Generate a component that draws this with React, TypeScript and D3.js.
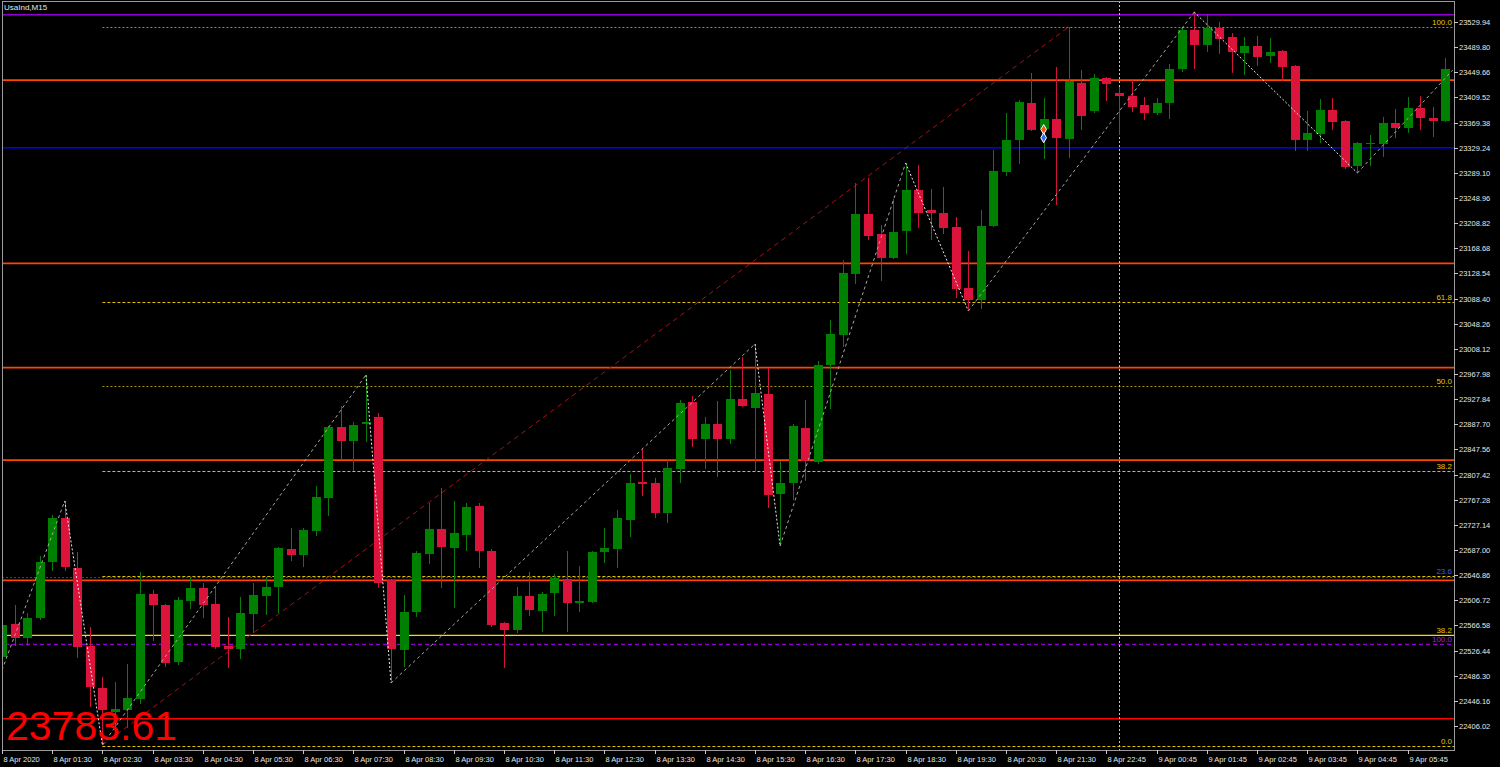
import React, { useEffect } from 'react';
import * as d3 from 'd3';

const WIDTH = 1500;
const HEIGHT = 767;

const symbolTitle = 'UsaInd,M15';
const bigPriceText = '23783.61';

const opens = [
  22516.2, 22568.9, 22546.5, 22578.5, 22667.9, 22738.1, 22658.3, 22533.8, 22466.7, 22428.4,
  22431.6, 22449.1, 22616.8, 22599.2, 22508.2, 22605.6, 22626.4, 22600.8, 22533.8, 22529.0,
  22584.8, 22613.6, 22628.0, 22688.6, 22679.0, 22717.4, 22770.0, 22883.4, 22861.0, 22888.2,
  22899.4, 22639.1, 22527.4, 22588.0, 22680.6, 22720.6, 22690.2, 22711.0, 22757.3, 22685.4,
  22570.5, 22559.3, 22613.6, 22589.6, 22618.4, 22640.7, 22602.4, 22604.0, 22683.8, 22688.6,
  22734.9, 22795.6, 22794.0, 22746.1, 22816.3, 22923.3, 22864.2, 22888.2, 22864.2, 22928.1,
  22913.7, 22936.1, 22776.4, 22794.0, 22881.8, 22827.5, 22982.4, 23030.3, 23127.7, 23223.4,
  23191.5, 23153.2, 23196.3, 23261.8, 23229.8, 23225.0, 23202.7, 23105.3, 23086.1, 23204.3,
  23290.5, 23341.6, 23400.7, 23359.2, 23375.1, 23343.2, 23432.6, 23387.9, 23440.6, 23416.6,
  23411.8, 23397.5, 23384.7, 23400.7, 23454.9, 23517.2, 23493.3, 23520.4, 23506.0, 23480.5,
  23491.7, 23475.7, 23483.7, 23459.7, 23341.6, 23351.2, 23389.5, 23371.9, 23300.1, 23335.2,
  23335.2, 23368.7, 23360.7, 23392.7, 23376.7, 23371.9,
];
const highs = [
  22575.3, 22599.2, 22586.4, 22677.4, 22742.9, 22765.3, 22683.8, 22564.1, 22484.3, 22476.3,
  22505.0, 22651.9, 22623.2, 22600.8, 22612.0, 22643.9, 22634.3, 22628.0, 22580.1, 22612.0,
  22634.3, 22643.9, 22691.8, 22722.2, 22722.2, 22789.2, 22885.0, 22916.9, 22891.4, 22966.4,
  22905.7, 22640.7, 22615.2, 22685.4, 22762.1, 22786.0, 22765.3, 22762.1, 22762.1, 22688.6,
  22572.1, 22628.0, 22651.9, 22620.0, 22648.7, 22685.4, 22661.5, 22685.4, 22722.2, 22750.9,
  22808.4, 22849.9, 22802.0, 22830.7, 22926.5, 22932.9, 22899.4, 22924.9, 22974.4, 22995.2,
  23015.9, 22977.6, 22829.1, 22888.2, 22926.5, 22988.8, 23054.2, 23150.0, 23272.9, 23280.9,
  23205.9, 23247.4, 23304.9, 23301.7, 23263.4, 23266.6, 23218.7, 23164.4, 23229.8, 23325.6,
  23384.7, 23405.5, 23448.6, 23408.6, 23458.1, 23522.0, 23453.3, 23447.0, 23442.2, 23426.2,
  23439.0, 23410.2, 23408.6, 23462.9, 23520.4, 23545.9, 23542.7, 23530.0, 23512.4, 23506.0,
  23507.6, 23504.4, 23485.3, 23461.3, 23387.9, 23407.0, 23408.6, 23373.5, 23338.4, 23349.6,
  23378.3, 23391.1, 23410.2, 23411.8, 23394.3, 23472.5,
];
const lows = [
  22503.4, 22533.8, 22533.8, 22575.3, 22653.5, 22653.5, 22514.6, 22436.4, 22375.7, 22391.7,
  22402.8, 22441.2, 22541.7, 22500.2, 22503.4, 22592.8, 22578.5, 22529.0, 22498.6, 22513.0,
  22554.5, 22583.3, 22586.4, 22669.5, 22659.9, 22709.4, 22741.3, 22832.3, 22813.2, 22859.4,
  22626.4, 22474.7, 22500.2, 22580.1, 22664.7, 22626.4, 22594.4, 22685.4, 22658.3, 22564.1,
  22498.6, 22554.5, 22581.7, 22556.1, 22581.7, 22556.1, 22588.0, 22602.4, 22666.3, 22658.3,
  22707.8, 22773.2, 22738.1, 22730.1, 22794.0, 22851.5, 22816.3, 22803.6, 22856.3, 22915.3,
  22813.2, 22754.1, 22693.4, 22766.9, 22797.2, 22824.3, 22912.1, 23011.1, 23111.7, 23181.9,
  23116.5, 23151.6, 23159.6, 23201.1, 23181.9, 23191.5, 23089.3, 23068.6, 23071.8, 23202.7,
  23284.1, 23303.3, 23356.0, 23311.3, 23237.8, 23312.9, 23357.6, 23384.7, 23403.9, 23349.6,
  23386.3, 23373.5, 23381.5, 23375.1, 23450.2, 23454.9, 23482.1, 23478.9, 23448.6, 23445.4,
  23459.7, 23464.5, 23435.8, 23324.0, 23324.0, 23336.8, 23357.6, 23295.3, 23288.9, 23300.1,
  23314.4, 23344.8, 23352.8, 23357.6, 23346.4, 23370.3,
];
const closes = [
  22567.3, 22546.5, 22578.5, 22667.9, 22738.1, 22659.9, 22532.2, 22468.3, 22431.6, 22433.2,
  22450.7, 22616.8, 22599.2, 22506.6, 22607.2, 22626.4, 22599.2, 22532.2, 22529.0, 22586.4,
  22615.2, 22628.0, 22690.2, 22679.0, 22719.0, 22771.6, 22883.4, 22861.0, 22886.6, 22891.4,
  22634.3, 22529.0, 22588.0, 22682.2, 22720.6, 22691.8, 22714.2, 22755.7, 22685.4, 22567.3,
  22559.3, 22613.6, 22591.2, 22616.8, 22642.3, 22602.4, 22605.6, 22683.8, 22690.2, 22738.1,
  22794.0, 22792.4, 22746.1, 22817.9, 22921.7, 22864.2, 22888.2, 22864.2, 22928.1, 22916.9,
  22937.7, 22774.8, 22794.0, 22885.0, 22829.1, 22982.4, 23031.9, 23129.3, 23223.4, 23188.3,
  23153.2, 23194.7, 23261.8, 23225.0, 23225.0, 23201.1, 23103.7, 23086.1, 23204.3, 23292.1,
  23341.6, 23402.3, 23357.6, 23375.1, 23344.8, 23435.8, 23379.9, 23440.6, 23431.0, 23411.8,
  23394.3, 23384.7, 23400.7, 23454.9, 23517.2, 23493.3, 23520.4, 23502.8, 23482.1, 23491.7,
  23474.1, 23482.1, 23458.1, 23341.6, 23352.8, 23389.5, 23370.3, 23298.5, 23336.8, 23336.8,
  23368.7, 23360.7, 23392.7, 23376.7, 23371.9, 23454.9,
];

const timeLabelIndex = [0, 4, 8, 12, 16, 20, 24, 28, 32, 36, 40, 44, 48, 52, 56, 60, 64, 68, 72, 76, 80, 84, 88, 92, 96, 100, 104, 108, 112];
const timeLabels = [
  '8 Apr 2020', '8 Apr 01:30', '8 Apr 02:30', '8 Apr 03:30', '8 Apr 04:30', '8 Apr 05:30',
  '8 Apr 06:30', '8 Apr 07:30', '8 Apr 08:30', '8 Apr 09:30', '8 Apr 10:30', '8 Apr 11:30',
  '8 Apr 12:30', '8 Apr 13:30', '8 Apr 14:30', '8 Apr 15:30', '8 Apr 16:30', '8 Apr 17:30',
  '8 Apr 18:30', '8 Apr 19:30', '8 Apr 20:30', '8 Apr 21:30', '8 Apr 22:45', '9 Apr 00:45',
  '9 Apr 01:45', '9 Apr 02:45', '9 Apr 03:45', '9 Apr 04:45', '9 Apr 05:45',
];

const priceTicks = [
  '23529.94', '23489.80', '23449.66', '23409.52', '23369.38', '23329.24', '23289.10', '23248.96',
  '23208.82', '23168.68', '23128.54', '23088.40', '23048.26', '23008.12', '22967.98', '22927.84',
  '22887.70', '22847.56', '22807.42', '22767.28', '22727.14', '22687.00', '22646.86', '22606.72',
  '22566.58', '22526.44', '22486.30', '22446.16', '22406.02',
];

// horizontal levels
const solidLevelPrices = [23541.5, 23437.3, 23329.2, 23144.7, 22978.0, 22830.6, 22638.6, 22550.8, 22417.6];
const solidLevelKinds = ['violet', 'orange', 'blue', 'orange', 'orange', 'orange', 'orange', 'yellow', 'red'];
const dottedBluePrice = 22643.0;
const dashedVioletPrice = 22536.4;

// fibonacci retracement
const fibRatios = [0, 23.6, 38.2, 50, 61.8, 100];
const fibLabels = ['0.0', '23.6', '38.2', '50.0', '61.8', '100.0'];
const fibLowPrice = 22374.0;
const fibHighPrice = 23522.4;
const fibStartIndex = 8;

// second fib labels
const fib2Labels = ['38.2', '100.0'];
const fib2Prices = [22550.8, 22536.4];

// zigzag
const zigIndex = [0, 5, 8, 29, 31, 60, 62, 72, 77, 95, 108, 115.6];
const zigPrice = [22495.4, 22765.3, 22375.7, 22966.4, 22474.7, 23015.9, 22693.4, 23304.9, 23068.6, 23545.9, 23288.9, 23453.3];

// trend line
const trendIndex = [8, 85];
const trendPrice = [22375.7, 23522.0];

const cursorIndex = 89;
const markerIndex = 83;
const markerPrices = [23358.4, 23345.1];

const COLORS: Record<string, string> = {
  violet: '#9400D3',
  orange: '#FF4500',
  blue: '#0000FF',
  yellow: '#FFD700',
  red: '#FF0000',
};

const LEFT = 2;
const RIGHT = 1454;
const TOP = 1;
const BOTTOM = 750;
const BAR_STEP = 12.55;

export default function App() {
  useEffect(() => {
    document.body.style.margin = '0';
    document.body.style.background = '#000';
  }, []);

  const n = opens.length;
  const x = d3.scaleLinear().domain([0, n - 1]).range([LEFT, LEFT + BAR_STEP * (n - 1)]);
  const y = d3.scaleLinear().domain([22406.02, 23529.94]).range([726, 22]);

  const axisFont = '"Liberation Sans", Arial, sans-serif';

  const zigLine = d3.line<number>().x((d) => x(zigIndex[d])).y((d) => y(zigPrice[d]));
  const zigSegments = zigIndex.slice(1).map((_, i) => [i, i + 1]);

  const trendLine = d3.line<number>().x((d) => x(trendIndex[d])).y((d) => y(trendPrice[d]));

  const diamond = d3.symbol().type(d3.symbolDiamond).size(28);

  const fibPrice = (r: number) => fibLowPrice + (r / 100) * (fibHighPrice - fibLowPrice);
  const fibColor = (r: number) => (r === 50 || r === 100 ? '#a89000' : '#e0c000');

  return (
    <svg width={WIDTH} height={HEIGHT} style={{ position: 'absolute', left: 0, top: 0, display: 'block', background: '#000' }}>
      <rect x={0} y={0} width={WIDTH} height={HEIGHT} fill="#000" />
      <defs>
        <clipPath id="plot">
          <rect x={LEFT} y={TOP} width={RIGHT - LEFT} height={BOTTOM - TOP} />
        </clipPath>
      </defs>

      <g clipPath="url(#plot)">
        {/* fib levels */}
        {fibRatios.map((r, i) => (
          <line key={'fib' + i} x1={x(fibStartIndex)} x2={RIGHT} y1={Math.round(y(fibPrice(r))) + 0.5} y2={Math.round(y(fibPrice(r))) + 0.5}
            stroke={fibColor(r)} strokeWidth={1} strokeDasharray={r === 50 || r === 100 ? '2,2' : '3,2'} />
        ))}

        {/* dotted blue / dashed violet */}
        <line x1={LEFT} x2={RIGHT} y1={y(dottedBluePrice)} y2={y(dottedBluePrice)} stroke="#1f3cff" strokeWidth={1} strokeDasharray="2,2" />
        <line x1={LEFT + 3} x2={RIGHT} y1={y(dashedVioletPrice)} y2={y(dashedVioletPrice)} stroke="#9400D3" strokeWidth={1.2} strokeDasharray="4,3" />

        {/* solid levels */}
        {solidLevelPrices.map((p, i) => (
          <line key={'lvl' + i} x1={LEFT} x2={RIGHT} y1={y(p)} y2={y(p)} stroke={COLORS[solidLevelKinds[i]]}
            strokeWidth={solidLevelKinds[i] === 'yellow' ? 1.3 : 1.7} />
        ))}

        {/* cursor vertical line */}
        <line x1={Math.round(x(cursorIndex)) + 0.5} x2={Math.round(x(cursorIndex)) + 0.5} y1={TOP} y2={BOTTOM} stroke="#c8c8c8" strokeWidth={1} strokeDasharray="2,2" />

        {/* trend line */}
        <path d={trendLine([0, 1]) || ''} fill="none" stroke="#a01414" strokeWidth={1} strokeDasharray="5,4" />

        {/* candles */}
        {opens.map((o, i) => {
          const c = closes[i];
          const bull = c >= o;
          const cx = Math.round(x(i));
          const top = y(Math.max(o, c));
          const bot = y(Math.min(o, c));
          const h = Math.max(1, bot - top);
          return (
            <g key={'c' + i}>
              <line x1={cx + 0.5} x2={cx + 0.5} y1={y(highs[i])} y2={y(lows[i])} stroke={bull ? '#0b7a0b' : '#d0143c'} strokeWidth={1} />
              <rect x={cx - 4} y={top} width={9} height={h} fill={bull ? '#008000' : '#DC143C'} />
            </g>
          );
        })}

        {/* zigzag */}
        {zigSegments.map(([a, b], i) => {
          const down = zigPrice[b] < zigPrice[a];
          return (
            <path key={'z' + i} d={zigLine([a, b]) || ''} fill="none" stroke={down ? '#ececec' : '#a8a8a0'} strokeWidth={1} strokeDasharray={down ? '2,2' : '3,3'} />
          );
        })}

        {/* trade markers */}
        <path d={diamond() || ''} transform={`translate(${x(markerIndex)},${y(markerPrices[0])})`} fill="#ff4a10" stroke="#ffffff" strokeWidth={1} />
        <path d={diamond() || ''} transform={`translate(${x(markerIndex)},${y(markerPrices[1])})`} fill="#2a6cff" stroke="#ffffff" strokeWidth={1} />

        {/* fib labels */}
        {fibRatios.map((r, i) => (
          <text key={'fl' + i} x={RIGHT - 2} y={y(fibPrice(r)) - 2} textAnchor="end" fontFamily={axisFont} fontSize={8}
            fill={r === 23.6 ? '#3c5cff' : '#e8c400'}>{fibLabels[i]}</text>
        ))}
        <text x={RIGHT - 2} y={y(fib2Prices[0]) - 2} textAnchor="end" fontFamily={axisFont} fontSize={8} fill="#e8c400">{fib2Labels[0]}</text>
        <text x={RIGHT - 2} y={y(fib2Prices[1]) - 2} textAnchor="end" fontFamily={axisFont} fontSize={8} fill="#a020e0">{fib2Labels[1]}</text>

        {/* big price text */}
        <text x={6} y={740} fontFamily={axisFont} fontSize={41} fill="#FF0000">{bigPriceText}</text>
      </g>

      {/* frame */}
      <rect x={LEFT + 0.5} y={TOP + 0.5} width={RIGHT - LEFT} height={BOTTOM - TOP} fill="none" stroke="#9a9a9a" strokeWidth={1} />

      {/* title */}
      <text x={4} y={10} fontFamily={axisFont} fontSize={8} fill="#e6e6e6">{symbolTitle}</text>

      {/* price axis */}
      {priceTicks.map((t, i) => {
        const py = Math.round(y(+t)) + 0.5;
        return (
          <g key={'pt' + i}>
            <line x1={RIGHT} x2={RIGHT + 4} y1={py} y2={py} stroke="#c8c8c8" strokeWidth={1} />
            <text x={RIGHT + 5} y={py} dominantBaseline="central" fontFamily={axisFont} fontSize={7.5} fill="#e6e6e6">{t}</text>
          </g>
        );
      })}

      {/* time axis */}
      {timeLabelIndex.map((bi, i) => {
        const tx = Math.round(x(bi)) + 0.5;
        return (
          <g key={'tt' + i}>
            <line x1={tx} x2={tx} y1={BOTTOM} y2={BOTTOM + 4} stroke="#c8c8c8" strokeWidth={1} />
            <text x={tx + 1} y={762} fontFamily={axisFont} fontSize={7.5} fill="#e6e6e6">{timeLabels[i]}</text>
          </g>
        );
      })}
    </svg>
  );
}
